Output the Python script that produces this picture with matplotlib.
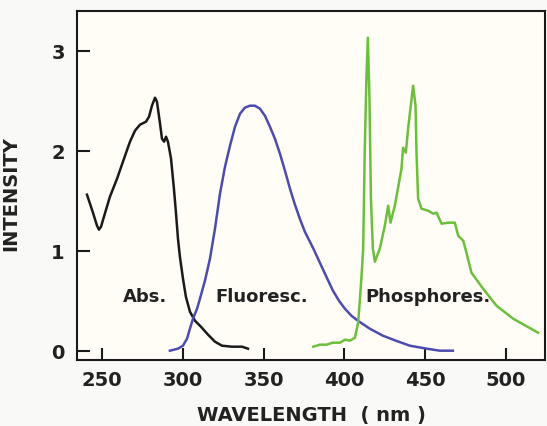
import matplotlib
matplotlib.use('Agg')
import matplotlib.pyplot as plt

# espectros
abs_x = [240.7, 244.4, 246.9, 248.1, 249.4, 251.2, 254.9, 259.3, 263.6, 267.3, 270.4, 273.5,
         277.2, 279.1, 280.9, 282.8, 284.0, 285.9, 287.1, 288.4, 289.6, 290.8, 292.7, 294.5,
         295.8, 297.0, 298.2, 300.1, 301.9, 304.4, 307.5, 311.2, 315.6, 319.9, 324.2, 330.4,
         336.6, 340.3]
abs_y = [1.56, 1.38, 1.25, 1.21, 1.24, 1.34, 1.54, 1.72, 1.92, 2.09, 2.20, 2.26,
         2.29, 2.34, 2.45, 2.53, 2.49, 2.27, 2.12, 2.09, 2.14, 2.09, 1.92, 1.62,
         1.37, 1.12, 0.94, 0.72, 0.54, 0.39, 0.30, 0.24, 0.16, 0.09, 0.05, 0.04,
         0.04, 0.02]

fluo_x = [292.0, 297.0, 300.1, 302.6, 304.4, 306.3, 308.8, 310.6, 313.7, 316.8, 319.9, 323.0,
          326.1, 329.2, 332.3, 335.4, 338.4, 341.5, 344.6, 347.7, 350.8, 353.9, 357.0, 360.1,
          363.2, 366.3, 369.4, 372.4, 375.5, 380.5, 384.8, 389.1, 392.9, 396.6, 400.3, 404.3,
          408.3, 415.7, 423.8, 431.8, 440.5, 451.0, 459.0, 467.1]
fluo_y = [0.00, 0.02, 0.05, 0.12, 0.22, 0.32, 0.42, 0.52, 0.70, 0.92, 1.22, 1.57,
          1.84, 2.05, 2.24, 2.37, 2.43, 2.45, 2.45, 2.42, 2.35, 2.24, 2.12, 1.97,
          1.80, 1.62, 1.46, 1.32, 1.19, 1.03, 0.88, 0.73, 0.60, 0.50, 0.42, 0.35,
          0.30, 0.22, 0.15, 0.10, 0.05, 0.02, 0.00, 0.00]

phos_x = [380.7, 384.8, 388.9, 392.8, 397.2, 400.3, 403.4, 406.5, 408.5, 409.6, 410.6, 411.6,
          412.6, 413.6, 414.5, 415.5, 416.4, 417.6, 418.8, 421.9, 425.0, 427.1, 428.5, 431.2,
          435.3, 436.3, 438.0, 439.4, 442.5, 444.0, 444.6, 445.6, 447.7, 451.8, 454.9, 457.0,
          460.1, 464.2, 468.3, 470.4, 473.5, 475.5, 478.6, 485.8, 494.1, 504.4, 519.8]
phos_y = [0.04, 0.06, 0.06, 0.08, 0.08, 0.11, 0.10, 0.13, 0.28, 0.52, 0.75, 1.02,
          2.02, 2.72, 3.13, 2.52, 1.52, 1.02, 0.89, 1.02, 1.25, 1.45, 1.28, 1.45,
          1.82, 2.03, 1.98, 2.22, 2.65, 2.45, 1.98, 1.52, 1.42, 1.40, 1.37, 1.38,
          1.27, 1.28, 1.28, 1.15, 1.10, 0.98, 0.78, 0.62, 0.45, 0.32, 0.18]

rotulos = ['Abs.', 'Fluoresc.', 'Phosphores.']
rotulos_x = [276.6, 349.0, 451.5]
rotulos_y = [0.55, 0.55, 0.55]

x_ticks = [250, 300, 350, 400, 450, 500]
y_ticks = [0, 1, 2, 3]

plt.rcParams['font.family'] = ['DejaVu Sans']

fig = plt.figure(figsize=(5.47, 4.27), dpi=100, facecolor='#f9f9f7')
ax = fig.add_axes([0.1413, 0.1546, 0.855, 0.8166])
ax.set_facecolor('#fffdf6')

ax.plot(abs_x, abs_y, color='#1a1a1a', lw=1.8)
ax.plot(fluo_x, fluo_y, color='#4c4cae', lw=1.8)
ax.plot(phos_x, phos_y, color='#6cbf3c', lw=1.8)

for txt, tx, ty in zip(rotulos, rotulos_x, rotulos_y):
    ax.text(tx, ty, txt, ha='center', va='center', fontsize=13, fontweight='bold', color='#222222')

ax.set_xlim(234.7, 524.1)
ax.set_ylim(-0.093, 3.394)
ax.set_xticks(x_ticks)
ax.set_yticks(y_ticks)
ax.tick_params(direction='in', length=9, width=1.5, labelsize=14, color='#1a1a1a',
               labelcolor='#222222')
ax.tick_params(axis='x', pad=7)
ax.tick_params(axis='y', pad=9)
for lab in ax.get_xticklabels() + ax.get_yticklabels():
    lab.set_fontweight('bold')
for s in ax.spines.values():
    s.set_linewidth(1.5)
    s.set_color('#1a1a1a')

ax.set_xlabel('WAVELENGTH  ( nm )', fontsize=14, fontweight='bold', color='#222222', labelpad=12)
ax.set_ylabel('INTENSITY', fontsize=14, fontweight='bold', color='#222222')
ax.yaxis.set_label_coords(-0.1225, 0.479)

plt.savefig('out.png', dpi=100, facecolor=fig.get_facecolor())
